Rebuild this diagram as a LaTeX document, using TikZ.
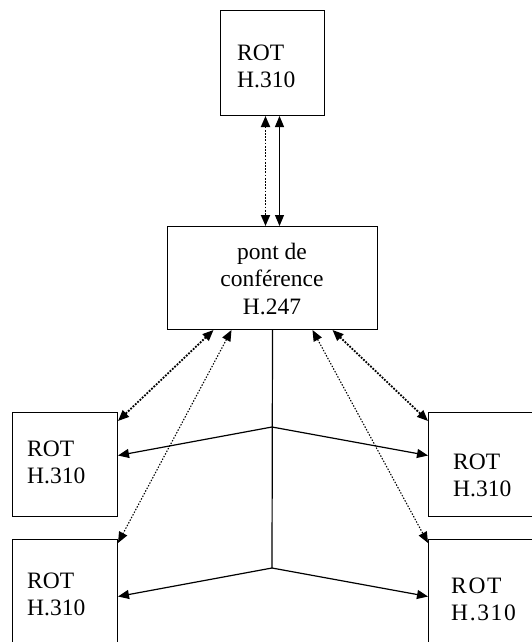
\documentclass[tikz,border=0pt]{standalone}
\usepackage{fontspec}
\setmainfont{Liberation Serif}
\newfontfamily\spacedfont[LetterSpace=7]{Liberation Serif}
\usetikzlibrary{arrows.meta}
\tikzset{
  box/.style={draw, line width=1pt, rectangle, anchor=north west, inner sep=0pt},
  txt/.style={anchor=base west, inner sep=0pt, font=\fontsize{23.5}{27.5}\selectfont},
  ctxt/.style={anchor=base, inner sep=0pt, align=center, font=\fontsize{23.5}{27.5}\selectfont},
  tip/.style={-{Triangle[length=11pt,width=9pt]}},
  dtip/.style={{Triangle[length=11pt,width=9pt]}-{Triangle[length=11pt,width=9pt]}},
  solidlink/.style={line width=1.2pt},
  dotlink/.style={line width=1.8pt, dash pattern=on 1.8pt off 1.4pt},
  thindot/.style={line width=1.1pt, dash pattern=on 1.4pt off 1.6pt}
}
\begin{document}
\begin{tikzpicture}[x=1pt,y=-1pt]
\useasboundingbox (0,0) rectangle (532,642);
% boxes
\node[box, minimum width=104pt, minimum height=105pt] (topbox) at (220,10) {};
\node[box, minimum width=210pt, minimum height=103pt] (bridge) at (167,226) {};
\node[box, minimum width=105pt, minimum height=104pt] (l1) at (12,412) {};
\node[box, minimum width=105pt, minimum height=105pt] (l2) at (12,539) {};
\node[box, minimum width=110pt, minimum height=104pt] (r1) at (428,412) {};
\node[box, minimum width=110pt, minimum height=105pt] (r2) at (428,539) {};
% texts
\node[txt] (toptext) at (237,60) {\begin{tabular}[t]{@{}l@{}}ROT\\H.310\end{tabular}};
\node[ctxt] (bridgetext) at (272,259) {\begin{tabular}[t]{@{}c@{}}pont de\\conférence\\H.247\end{tabular}};
\node[txt] (l1text) at (27,456) {\begin{tabular}[t]{@{}l@{}}ROT\\H.310\end{tabular}};
\node[txt] (l2text) at (27,588) {\begin{tabular}[t]{@{}l@{}}ROT\\H.310\end{tabular}};
\node[txt] (r1text) at (453,469) {\begin{tabular}[t]{@{}l@{}}ROT\\H.310\end{tabular}};
\node[txt] (r2text) at (451,593) {\spacedfont\begin{tabular}[t]{@{}l@{}}ROT\\H.310\end{tabular}};
% junctions
\coordinate (j1) at (272,427);
\coordinate (j2) at (272,568);
% top link
\draw[dotlink, dtip] ([xshift=-7pt]topbox.south) -- ([xshift=-7pt]bridge.north);
\draw[solidlink, dtip] ([xshift=7pt]topbox.south) -- ([xshift=7pt]bridge.north);
% trunk
\draw[solidlink] (bridge.south) -- (j2);
\draw[solidlink, tip] (j1) -- ([yshift=9pt]l1.east);
\draw[solidlink, tip] (j1) -- ([yshift=9pt]r1.west);
\draw[solidlink, tip] (j2) -- ([yshift=-4.5pt]l2.east);
\draw[solidlink, tip] (j2) -- ([yshift=-4.5pt]r2.west);
% dotted diagonals
\draw[dotlink, dtip] ([xshift=-59pt]bridge.south) -- ([yshift=-9pt]l1.north east);
\draw[thindot, dtip] ([xshift=-41pt]bridge.south) -- ([yshift=-4pt]l2.north east);
\draw[dotlink, dtip] ([xshift=60pt]bridge.south) -- ([yshift=-9pt]r1.north west);
\draw[thindot, dtip] ([xshift=40pt]bridge.south) -- ([yshift=-4pt]r2.north west);
\end{tikzpicture}
\end{document}
